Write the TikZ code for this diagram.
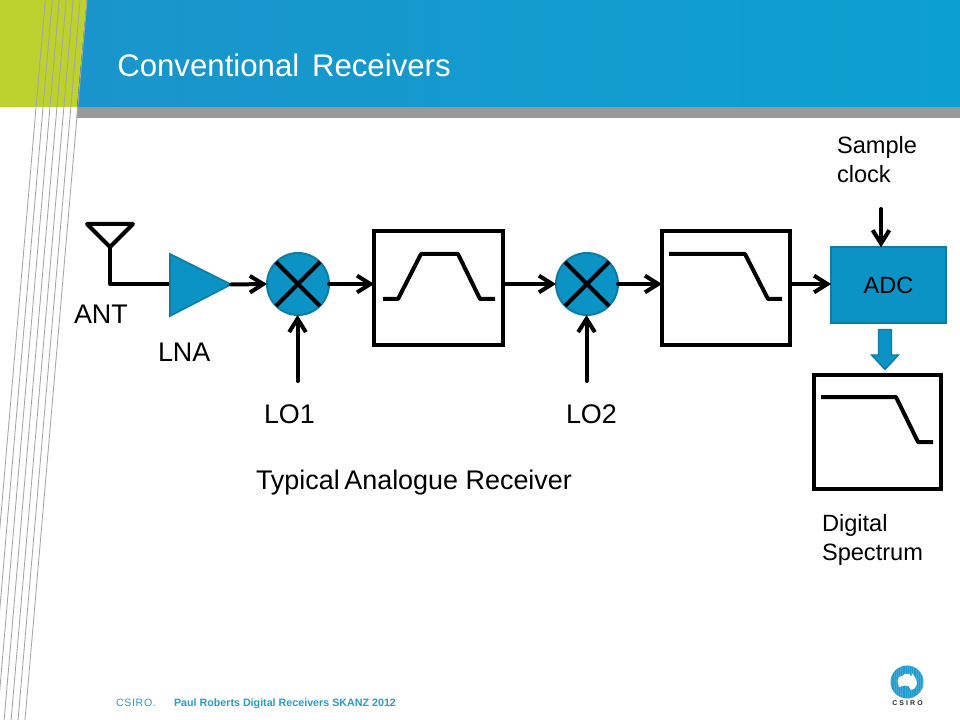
\documentclass[tikz,border=0pt]{standalone}
\usepackage{fontspec}
\setmainfont{Liberation Sans}
\usetikzlibrary{arrows.meta,calc}
\definecolor{bannerL}{HTML}{1A95CC}
\definecolor{bannerR}{HTML}{0CA0D0}
\definecolor{leaf}{HTML}{BDD12F}
\definecolor{bar}{HTML}{999999}
\definecolor{shapefill}{HTML}{0A93C4}
\definecolor{shapeedge}{HTML}{0E7CA3}
\definecolor{rule}{HTML}{A6A6A6}
\definecolor{foot}{HTML}{2A9CC8}
\definecolor{logoblue}{HTML}{1E9CD0}
\tikzset{
  x=0.75pt,y=-0.75pt,
  wire/.style={line width=3pt,black,line cap=round,line join=round},
  conn/.style={wire,-{Straight Barb[length=10pt,width=12.5pt,line width=3pt]}},
  mixer/.style={circle,draw=shapeedge,fill=shapefill,line width=1.5pt,minimum size=46.5pt,inner sep=0pt,outer sep=0pt},
  filterbox/.style={rectangle,draw=black,line width=2.7pt,fill=white,inner sep=0pt,outer sep=0pt},
  label/.style={anchor=base west,inner sep=0pt,outer sep=0pt,font=\fontsize{20.2}{24}\selectfont},
  small/.style={anchor=base west,inner sep=0pt,outer sep=0pt,font=\fontsize{17.7}{21}\selectfont},
  foottext/.style={anchor=base west,inner sep=0pt,outer sep=0pt,text=foot,font=\fontsize{8.03}{9}\selectfont\bfseries},
  greyline/.style={rule,line width=0.65pt}
}
\begin{document}
\begin{tikzpicture}
\useasboundingbox (0,0) rectangle (960,720);
\fill[white] (0,0) rectangle (960,720);
% banner
\fill[leaf] (0,0) -- (87,0) -- (77,107) -- (0,107) -- cycle;
\fill[left color=bannerL,right color=bannerR] (87,0) -- (960,0) -- (960,107.5) -- (77,107.5) -- cycle;
\fill[bar] (77,107.5) -- (960,107.5) -- (960,118) -- (76.5,118) -- cycle;
\foreach \i in {0,...,6}{
  \draw[greyline] ({87-6.95*\i},0) -- ({25-6.95*\i},720);
}
\node[anchor=base west,inner sep=0pt,text=white,font=\fontsize{23.4}{28}\selectfont] (title) at (117,76.5) {Conventional\hspace{3pt} Receivers};
% antenna and LNA
\coordinate (antL) at (87,224);
\coordinate (antR) at (133,224);
\coordinate (antA) at (110,247);
\coordinate (antB) at (110,284);
\coordinate (lnaIn) at (170,284);
\coordinate (lnaOut) at (231,284.5);
\draw[wire] (antL) -- (antR) -- (antA) -- cycle;
\draw[wire,line cap=butt] (antA) -- (antB) -- (lnaIn);
\draw[draw=shapeedge,fill=shapefill,line width=1.2pt,line join=miter] (170,254) -- (lnaOut) -- (170,316) -- cycle;
% mixers
\node[mixer] (mix1) at (298,284) {};
\node[mixer] (mix2) at (587,284) {};
\foreach \m in {mix1,mix2}{
  \draw[wire,line cap=butt] ($(\m)+(-22,-22)$) -- ($(\m)+(22,22)$);
  \draw[wire,line cap=butt] ($(\m)+(22,-22)$) -- ($(\m)+(-22,22)$);
}
% filters
\node[filterbox,minimum width=96.5pt,minimum height=85.5pt] (f1) at (438.5,288) {};
\node[filterbox,minimum width=96pt,minimum height=85.5pt] (f2) at (726,288) {};
\node[filterbox,minimum width=95.5pt,minimum height=85.5pt] (f3) at (877.5,432) {};
\draw[wire,line cap=butt] (383,299) -- (398,299) -- (421,254) -- (458,254) -- (480,299) -- (495,299);
\draw[wire,line cap=butt] (669,254) -- (745,254) -- (768,299) -- (782,299);
\draw[wire,line cap=butt] (821,397) -- (896,397) -- (918,442) -- (933,442);
% ADC
\node[rectangle,draw=shapeedge,fill=shapefill,line width=1.5pt,minimum width=86pt,minimum height=56.5pt,inner sep=0pt,outer sep=0pt,font=\fontsize{17.6}{20}\selectfont,text=black] (adc) at (888.5,285) {ADC};
% LO and clock sources
\coordinate (lo1) at (297.5,381);
\coordinate (lo2) at (586.5,381);
\coordinate (clk) at (881,209);
% connectors
\draw[conn] (lnaOut) -- (mix1.west);
\draw[conn] (mix1.east) -- (mix1.east -| f1.west);
\draw[conn] (f1.east |- mix1) -- (mix2.west);
\draw[conn] (mix2.east) -- (mix2.east -| f2.west);
\draw[conn] (f2.east |- mix2) -- (adc.west |- mix2);
\draw[conn] (lo1) -- (lo1 |- mix1.south);
\draw[conn] (lo2) -- (lo2 |- mix2.south);
\draw[conn] (clk) -- (clk |- adc.north);
% block arrow
\draw[draw=shapeedge,fill=shapefill,line width=1pt,line join=miter] (878.5,329.5) -- (891.5,329.5) -- (891.5,355) -- (898.5,355) -- (885,369.5) -- (871.5,355) -- (878.5,355) -- cycle;
% labels
\node[label] (ant) at (74,323) {ANT};
\node[label] (lna) at (158,361) {LNA};
\node[label] (lo1t) at (264,423) {LO1};
\node[label] (lo2t) at (566,423) {LO2};
\node[label] (typ) at (256,489) {Typical\hspace{-2.2pt} Analogue Receiver};
\node[small] (s1) at (837,154) {Sample};
\node[small] (s2) at (837,182.5) {clock};
\node[small] (d1) at (822,531) {Digital};
\node[small] (d2) at (822,560) {Spectrum};
% footer
\node[foottext,font=\fontsize{8}{9}\selectfont\addfontfeature{LetterSpace=6}] (c) at (116,706) {CSIRO.};
\node[foottext] (p) at (174,706) {Paul Roberts Digital Receivers SKANZ 2012};
% logo
\fill[logoblue] (907,682) circle (16.5);
\fill[white] (897.5,681) -- (899,677) -- (903,675.5) -- (905,673.5) -- (907.5,674.5) -- (909.5,673.5) -- (911,677) -- (912.5,673.5) -- (916,679) -- (917,684) -- (914.5,688.5) -- (911,690) -- (908.5,686) -- (904.5,685.5) -- (899,687) -- cycle;
\begin{scope}
\clip (907,682) circle (16.5);
\foreach \k in {-7,...,7}{\draw[white,opacity=.15,line width=.4pt] ({907+2.2*\k},665) -- ({907+2.2*\k},700);}
\end{scope}
\node[anchor=base,inner sep=0pt,font=\fontsize{5.2}{6}\selectfont\bfseries\addfontfeature{LetterSpace=30},text=black!85] (logo) at (907.5,705) {CSIRO};
\end{tikzpicture}
\end{document}
